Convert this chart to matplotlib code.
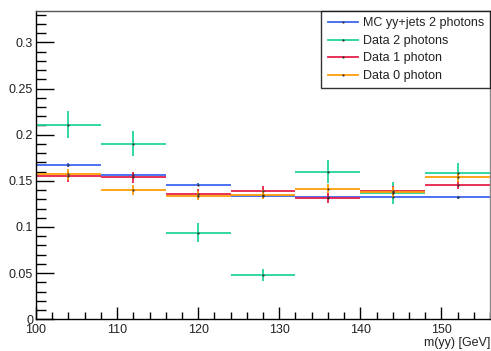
import matplotlib
matplotlib.use("Agg")
import matplotlib.pyplot as plt
from matplotlib.ticker import MultipleLocator
from matplotlib.lines import Line2D
import numpy as np

plt.rcParams['font.family'] = ['Liberation Sans', 'DejaVu Sans']

bin_edges = [100, 108, 116, 124, 132, 140, 148, 156]
labels = ["MC yy+jets 2 photons", "Data 2 photons", "Data 1 photon", "Data 0 photon"]
colors = ["#3f66f0", "#22d49a", "#e8204a", "#ff9e0a"]

mc_2ph = [0.167, 0.156, 0.146, 0.1335, 0.133, 0.133, 0.132]
mc_2ph_err = [0.002, 0.002, 0.002, 0.002, 0.002, 0.002, 0.002]
data_2ph = [0.211, 0.190, 0.094, 0.048, 0.160, 0.137, 0.159]
data_2ph_err = [0.0144, 0.0135, 0.0100, 0.0070, 0.0127, 0.0117, 0.0100]
data_1ph = [0.155, 0.154, 0.136, 0.139, 0.1315, 0.139, 0.146]
data_1ph_err = [0.006, 0.006, 0.005, 0.005, 0.005, 0.005, 0.005]
data_0ph = [0.157, 0.140, 0.134, 0.135, 0.1415, 0.138, 0.154]
data_0ph_err = [0.006, 0.005, 0.005, 0.005, 0.005, 0.005, 0.005]

series = [mc_2ph, data_2ph, data_1ph, data_0ph]
errors = [mc_2ph_err, data_2ph_err, data_1ph_err, data_0ph_err]

edges = np.array(bin_edges, dtype=float)
centers = 0.5 * (edges[:-1] + edges[1:])
halfw = 0.5 * (edges[1:] - edges[:-1])

fig = plt.figure(figsize=(4.91, 3.51), dpi=100)
ax = fig.add_axes([36/491, 1 - 319.3/351, (490 - 36)/491, (319.3 - 11)/351])

handles = []
for vals, errs, c, lab in zip(series, errors, colors, labels):
    ax.errorbar(centers, vals, xerr=halfw, yerr=errs, fmt='.', color=c,
                ecolor=c, elinewidth=1.3, markersize=1.2, mfc='#303030',
                mec='#303030', capsize=0)
    handles.append(Line2D([0], [0], color=c, lw=1.3, marker='.', markersize=1.2,
                          mfc='#303030', mec='#303030', label=lab))

ax.set_xlim(100, 156)
ax.set_ylim(0, 0.334)
ax.xaxis.set_major_locator(MultipleLocator(10))
ax.xaxis.set_minor_locator(MultipleLocator(2))
ax.yaxis.set_minor_locator(MultipleLocator(0.01))
ax.set_yticks([0, 0.05, 0.1, 0.15, 0.2, 0.25, 0.3])
ax.set_yticklabels(["0", "0.05", "0.1", "0.15", "0.2", "0.25", "0.3"])
ax.tick_params(axis='both', which='major', direction='in', labelsize=9,
               top=False, right=False, colors='black', labelcolor='#222222')
ax.tick_params(axis='y', which='major', length=13, width=1, pad=2)
ax.tick_params(axis='y', which='minor', direction='in', length=7, width=1, right=False)
ax.tick_params(axis='x', which='major', length=9, width=1, pad=3.5)
ax.tick_params(axis='x', which='minor', direction='in', length=5, width=1, top=False)
for s in ax.spines.values():
    s.set_linewidth(1.0)
ax.spines['top'].set_color('#555555')
ax.spines['right'].set_color('#888888')

ax.text(1.0, -0.057, "m(yy) [GeV]", transform=ax.transAxes, ha='right', va='top',
        fontsize=9, color='#222222')

leg = ax.legend(handles=handles, loc='upper right', fontsize=9, frameon=True,
                fancybox=False, edgecolor='black', borderpad=0.5, handlelength=2.4,
                labelspacing=0.45, borderaxespad=0.0, handletextpad=0.4)
leg.get_frame().set_linewidth(1.0)
for t in leg.get_texts():
    t.set_color('#222222')

fig.savefig("out.png", dpi=100)
